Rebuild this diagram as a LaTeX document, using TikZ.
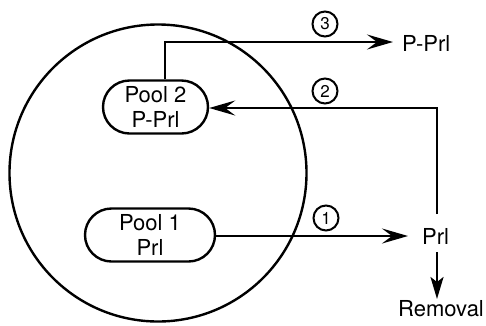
\documentclass[tikz,border=0pt]{standalone}
\usepackage{fontspec}
\setmainfont{TeX Gyre Heros}
\usetikzlibrary{arrows.meta,shapes.misc}
\begin{document}
\begin{tikzpicture}[x=1pt,y=-1pt, line width=2.4pt,
  pool/.style={draw, rounded rectangle, minimum height=53pt, align=center, inner sep=0pt, font=\fontsize{22}{25}\selectfont},
  lbl/.style={font=\fontsize{22}{24}\selectfont, inner sep=0pt},
  num/.style={draw, circle, minimum size=25pt, inner sep=0pt, line width=2pt, font=\fontsize{17}{17}\selectfont},
  arr/.style={-{Stealth[length=26pt,width=15pt,inset=10pt]}},
  darr/.style={-{Stealth[length=22pt,width=13pt,inset=5pt]}}]
\useasboundingbox (0,0) rectangle (486,325);
\node[draw, circle, minimum size=297pt, inner sep=0pt] (cell) at (158,173) {};
\node[pool, minimum width=105pt] (p2) at (155.5,107) {Pool 2\\P-Prl};
\node[pool, minimum width=130pt] (p1) at (150,235) {Pool 1\\Prl};
\node[lbl, anchor=west] (pp) at (401,43) {P-Prl};
\node[lbl, anchor=west] (prl) at (421,236) {Prl};
\node[lbl, anchor=north] (rem) at (441,299) {Removal};
\coordinate (top2) at (437,108);
\coordinate (bot2) at (437,214);
\coordinate (top4) at (437,252);
\node[num] (n3) at (325,24) {3};
\node[num] (n2) at (325,91) {2};
\node[num] (n1) at (326,218) {1};
\coordinate (c3) at (165,42);
\draw[arr] (p2.north -| c3) -- (c3) -- ([xshift=-8pt]pp.west |- c3);
\draw[arr] (bot2) -- (top2) -- (p2.east |- top2);
\draw[arr] (p1.east |- 0,236) -- ([xshift=-13pt]prl.west);
\draw[darr] (top4) -- (top4 |- rem.north);
\end{tikzpicture}
\end{document}
